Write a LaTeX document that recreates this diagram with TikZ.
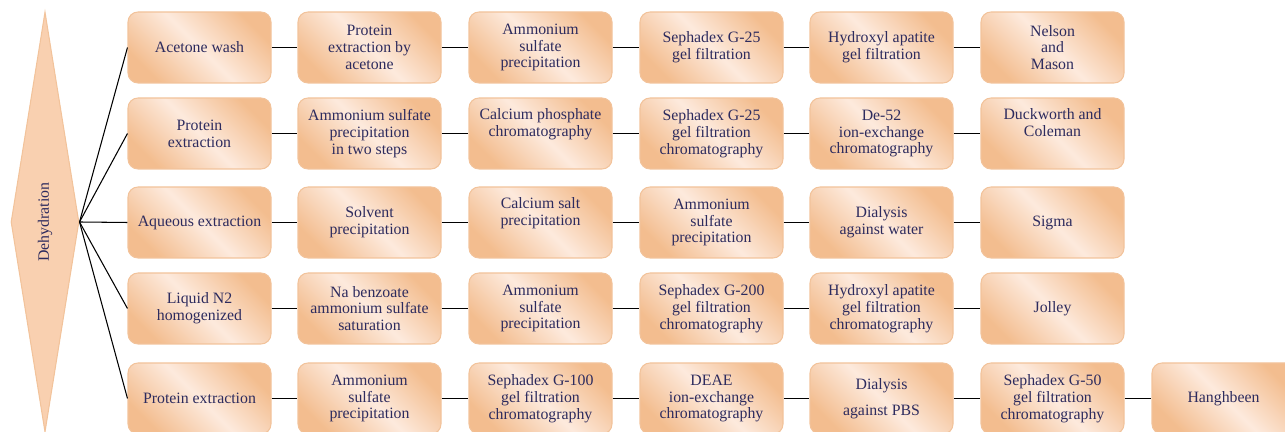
\documentclass[tikz,border=0pt]{standalone}
\usepackage{fontspec}
\setmainfont{Liberation Serif}
\usepackage{xcolor}
\usetikzlibrary{shapes.geometric}

\definecolor{peachdark}{HTML}{F3BD8F}
\definecolor{peachlight}{HTML}{FDEADD}
\definecolor{peachline}{HTML}{F2C39B}
\definecolor{peachdiam}{HTML}{F9D0B0}
\definecolor{inkblue}{HTML}{2D2B5E}

\tikzset{
	stepbox/.style={rectangle,rounded corners=0.2cm,draw=peachline,line width=0.6pt,
		top color=peachdark,bottom color=peachdark,middle color=peachlight,shading angle=-45,
		minimum width=2.86cm,minimum height=1.42cm,inner sep=1pt,align=center,
		text=inkblue,font=\fontsize{9}{9.6}\selectfont},
	raised/.style={text depth=0.45cm},
	link/.style={black,line width=0.6pt}
}

\begin{document}
\begin{tikzpicture}
	\useasboundingbox (0,0) rectangle (25.7,8.64);
	%
	\node[diamond,draw=peachline,fill=peachdiam,line width=0.6pt,inner sep=0pt,
		minimum width=1.36cm,minimum height=8.4cm,
		label={[rotate=90,text=inkblue,font=\fontsize{9}{9.6}\selectfont]center:Dehydration}] (dehy) at (0.9,4.2) {};
	%
	\node[stepbox] (r1c1) at (3.99,7.69) {Acetone wash};
	\node[stepbox] (r1c2) at (7.39,7.69) {Protein\\extraction by\\acetone};
	\node[stepbox] (r1c3) at (10.81,7.69) {Ammonium\\sulfate\\precipitation};
	\node[stepbox] (r1c4) at (14.23,7.69) {Sephadex G-25\\gel filtration};
	\node[stepbox] (r1c5) at (17.63,7.69) {Hydroxyl apatite\\gel filtration};
	\node[stepbox] (r1c6) at (21.05,7.69) {Nelson\\and\\Mason};
	%
	\node[stepbox] (r2c1) at (3.99,5.97) {Protein\\extraction};
	\node[stepbox] (r2c2) at (7.39,5.97) {Ammonium sulfate\\precipitation\\in two steps};
	\node[stepbox,raised] (r2c3) at (10.81,5.97) {Calcium phosphate\\chromatography};
	\node[stepbox] (r2c4) at (14.23,5.97) {Sephadex G-25\\gel filtration\\chromatography};
	\node[stepbox] (r2c5) at (17.63,5.97) {De-52\\ion-exchange\\chromatography};
	\node[stepbox,raised] (r2c6) at (21.05,5.97) {Duckworth and\\Coleman};
	%
	\node[stepbox] (r3c1) at (3.99,4.19) {Aqueous extraction};
	\node[stepbox] (r3c2) at (7.39,4.19) {Solvent\\precipitation};
	\node[stepbox,raised] (r3c3) at (10.81,4.19) {Calcium salt\\precipitation};
	\node[stepbox] (r3c4) at (14.23,4.19) {Ammonium\\sulfate\\precipitation};
	\node[stepbox] (r3c5) at (17.63,4.19) {Dialysis\\against water};
	\node[stepbox] (r3c6) at (21.05,4.19) {Sigma};
	%
	\node[stepbox] (r4c1) at (3.99,2.47) {Liquid N2\\homogenized};
	\node[stepbox] (r4c2) at (7.39,2.47) {Na benzoate\\ammonium sulfate\\saturation};
	\node[stepbox] (r4c3) at (10.81,2.47) {Ammonium\\sulfate\\precipitation};
	\node[stepbox] (r4c4) at (14.23,2.47) {Sephadex G-200\\gel filtration\\chromatography};
	\node[stepbox] (r4c5) at (17.63,2.47) {Hydroxyl apatite\\gel filtration\\chromatography};
	\node[stepbox] (r4c6) at (21.05,2.47) {Jolley};
	%
	\node[stepbox] (r5c1) at (3.99,0.67) {Protein extraction};
	\node[stepbox] (r5c2) at (7.39,0.67) {Ammonium\\sulfate\\precipitation};
	\node[stepbox] (r5c3) at (10.81,0.67) {Sephadex G-100\\gel filtration\\chromatography};
	\node[stepbox] (r5c4) at (14.23,0.67) {DEAE\\ion-exchange\\chromatography};
	\node[stepbox] (r5c5) at (17.63,0.67) {Dialysis\\[5pt]against PBS};
	\node[stepbox] (r5c6) at (21.05,0.67) {Sephadex G-50\\gel filtration\\chromatography};
	\node[stepbox] (r5c7) at (24.47,0.67) {Hanghbeen};
	%
	\draw[link] (dehy.east) -- (r1c1.west);
	\draw[link] (dehy.east) -- (r2c1.west);
	\draw[link] (dehy.east) -- (r3c1.west);
	\draw[link] (dehy.east) -- (r4c1.west);
	\draw[link] (dehy.east) -- (r5c1.west);
	%
	\draw[link] (r1c1) -- (r1c2) -- (r1c3) -- (r1c4) -- (r1c5) -- (r1c6);
	\draw[link] (r2c1) -- (r2c2) -- (r2c3) -- (r2c4) -- (r2c5) -- (r2c6);
	\draw[link] (r3c1) -- (r3c2) -- (r3c3) -- (r3c4) -- (r3c5) -- (r3c6);
	\draw[link] (r4c1) -- (r4c2) -- (r4c3) -- (r4c4) -- (r4c5) -- (r4c6);
	\draw[link] (r5c1) -- (r5c2) -- (r5c3) -- (r5c4) -- (r5c5) -- (r5c6) -- (r5c7);
\end{tikzpicture}
\end{document}
